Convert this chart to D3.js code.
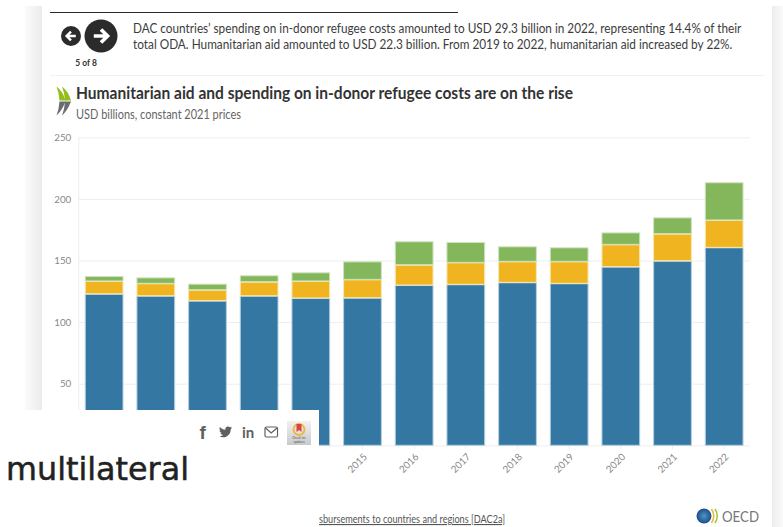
<!DOCTYPE html>
<html>
<head>
<meta charset="utf-8">
<script src="https://cdnjs.cloudflare.com/ajax/libs/d3/7.8.5/d3.min.js"></script>
<style>
  html, body { margin: 0; padding: 0; background: #fff; overflow: hidden; }
  svg { display: block; font-family: Lato, "Noto Sans", sans-serif; }
</style>
</head>
<body>
<svg id="page" width="783" height="527"></svg>
<script>
// Chart values, USD billions at constant 2021 prices
const years = [2010, 2011, 2012, 2013, 2014, 2015, 2016, 2017, 2018, 2019, 2020, 2021, 2022];
const otherOda = [123.0, 121.4, 117.4, 121.4, 119.6, 119.8, 130.1, 130.7, 132.3, 131.5, 145.0, 149.8, 160.7];
const humanitarian = [10.4, 10.1, 8.9, 11.4, 13.8, 14.9, 16.5, 17.8, 17.0, 17.8, 18.1, 22.0, 22.2];
const refugeeCosts = [4.0, 4.8, 4.9, 5.2, 7.0, 14.6, 19.0, 16.5, 12.2, 11.4, 9.7, 13.2, 30.6];
const yTicks = [0, 50, 100, 150, 200, 250];
const seriesKeys = ["otherOda", "humanitarian", "refugeeCosts"];
const seriesColors = ["#3577a3", "#efb41f", "#84b65c"];
const seriesEdges = ["#b4cfe0", "#fae7b0", "#cfe3bd"];

const insight = [
  "DAC countries\u2019 spending on in-donor refugee costs amounted to USD 29.3 billion in 2022, representing 14.4% of their",
  "total ODA. Humanitarian aid amounted to USD 22.3 billion. From 2019 to 2022, humanitarian aid increased by 22%."
];
const insightWidths = [609, 600];
const chartTitle = "Humanitarian aid and spending on in-donor refugee costs are on the rise";
const chartSubtitle = "USD billions, constant 2021 prices";

const svg = d3.select("#page");
const defs = svg.append("defs");

// Soft shadows either side of the article column
const shadowLeft = defs.append("linearGradient").attr("id", "shadowLeft");
shadowLeft.append("stop").attr("offset", "0").attr("stop-color", "#fbfbfb");
shadowLeft.append("stop").attr("offset", "1").attr("stop-color", "#ebebeb");
const shadowRight = defs.append("linearGradient").attr("id", "shadowRight");
shadowRight.append("stop").attr("offset", "0").attr("stop-color", "#ececec");
shadowRight.append("stop").attr("offset", "1").attr("stop-color", "#fafafa");
const badgeFill = defs.append("linearGradient").attr("id", "badgeFill").attr("x2", 0).attr("y2", 1);
badgeFill.append("stop").attr("offset", "0").attr("stop-color", "#f2f2f2");
badgeFill.append("stop").attr("offset", "1").attr("stop-color", "#c9c9c9");
const globeFill = defs.append("radialGradient").attr("id", "globeFill");
globeFill.append("stop").attr("offset", "0").attr("stop-color", "#4f93c9");
globeFill.append("stop").attr("offset", "1").attr("stop-color", "#1c4f86");

svg.append("rect").attr("x", 25).attr("y", 6).attr("width", 17).attr("height", 404).attr("fill", "url(#shadowLeft)");
svg.append("rect").attr("x", 772).attr("y", 6).attr("width", 11).attr("height", 521).attr("fill", "url(#shadowRight)");

// Header: rules, carousel buttons and the insight text
svg.append("line").attr("x1", 50).attr("x2", 458).attr("y1", 12.5).attr("y2", 12.5).attr("stroke", "#2a2a2a").attr("stroke-width", 1);
svg.append("line").attr("x1", 50).attr("x2", 764).attr("y1", 75.5).attr("y2", 75.5).attr("stroke", "#f1f1f1");

function arrowButton(cx, cy, r, dir, s) {
  svg.append("circle").attr("cx", cx).attr("cy", cy).attr("r", r).attr("fill", "#2b2b2b");
  svg.append("path").attr("transform", `translate(${cx},${cy}) scale(${dir * s},${s})`)
    .attr("d", "M-6,0H5M0,-5.5L5.5,0L0,5.5").attr("fill", "none")
    .attr("stroke", "#fff").attr("stroke-width", 3);
}
arrowButton(71, 36, 10, -1, 0.8);
arrowButton(101, 36, 16.5, 1, 1.2);

svg.append("text").attr("x", 86).attr("y", 66).attr("text-anchor", "middle")
  .attr("font-size", 8.5).attr("font-weight", 700).attr("fill", "#333").text("5 of 8");

// Each insight line is narrowed horizontally to fit the column
svg.selectAll("text.insight").data(insight).join("text").attr("class", "insight")
  .attr("font-size", 13).attr("fill", "#3c3c3c")
  .text(d => d)
  .attr("transform", function (d, i) {
    const k = insightWidths[i] / this.getComputedTextLength();
    return `translate(133,${33 + i * 16}) scale(${k},1)`;
  });

// OECD double chevron beside the title
const mark = svg.append("g").attr("transform", "translate(56.5,86.5)");
[0, 5.5].forEach(dx => {
  mark.append("path").attr("d", `M${dx},0 Q${dx + 6.5},5 ${dx + 9},14 L${dx + 3},14 Q${dx + 2.5},6 ${dx},0 Z`).attr("fill", "#93bd1a");
  mark.append("path").attr("d", `M${dx + 3},15 L${dx + 9},15 Q${dx + 5.5},24 ${dx},29 Q${dx + 2.5},23 ${dx + 3},15 Z`).attr("fill", "#6b6c6f");
});

svg.append("text").attr("x", 76).attr("y", 99).attr("font-size", 17).attr("font-weight", 700)
  .attr("fill", "#333").attr("textLength", 497).attr("lengthAdjust", "spacingAndGlyphs").text(chartTitle);
svg.append("text").attr("x", 76).attr("y", 119).attr("font-size", 12.5).attr("fill", "#666")
  .attr("textLength", 165).attr("lengthAdjust", "spacingAndGlyphs").text(chartSubtitle);

// Plot area
const plot = { left: 78.3, right: 750, top: 137.3, bottom: 445.3 };
const x = d3.scaleBand().domain(years).range([plot.left, plot.right]).paddingInner(0.25).paddingOuter(0.125);
const y = d3.scaleLinear().domain([0, 250]).range([plot.bottom, plot.top]);

const yAxis = d3.axisLeft(y).tickValues(yTicks).tickSize(plot.left - plot.right).tickPadding(7);
const yGroup = svg.append("g").attr("transform", `translate(${plot.left},0)`).call(yAxis);
yGroup.select(".domain").attr("stroke", "#eeeeee").attr("d", `M0.5,${plot.top}V${plot.bottom}`);
yGroup.selectAll(".tick line").attr("stroke", "#eeeeee");
yGroup.selectAll(".tick line").attr("x1", 0).attr("x2", plot.right - plot.left);
yGroup.selectAll(".tick text").attr("fill", "#888").attr("font-size", 9.8)
  .attr("font-family", 'Lato, "Noto Sans", sans-serif');
// The lower-left panel covers the zero label and the first year labels
yGroup.selectAll(".tick text").filter(d => d === 0).remove();

const xAxis = d3.axisBottom(x).tickSize(4).tickPadding(0);
const xGroup = svg.append("g").attr("transform", `translate(0,${plot.bottom})`).call(xAxis);
xGroup.select(".domain").remove();
xGroup.selectAll(".tick line").attr("stroke", "#eeeeee");
xGroup.selectAll(".tick text").filter(d => d < 2015).remove();
xGroup.selectAll(".tick text").attr("fill", "#888").attr("font-size", 9.8)
  .attr("font-family", 'Lato, "Noto Sans", sans-serif')
  .attr("text-anchor", "end").attr("x", 0).attr("y", 0).attr("dy", "0.32em")
  .attr("transform", "translate(3,10) rotate(-45)");

const rows = years.map((year, i) => ({
  year, otherOda: otherOda[i], humanitarian: humanitarian[i], refugeeCosts: refugeeCosts[i]
}));
const stacked = d3.stack().keys(seriesKeys)(rows);

svg.append("g").selectAll("g").data(stacked).join("g")
  .attr("fill", (d, i) => seriesColors[i])
  .attr("stroke", (d, i) => seriesEdges[i])
  .selectAll("rect").data(d => d).join("rect")
  .attr("x", d => x(d.data.year) + 0.5)
  .attr("width", x.bandwidth() - 1)
  .attr("y", d => y(d[1]) + 0.5)
  .attr("height", d => Math.max(0, y(d[0]) - y(d[1]) - 0.5))
  .attr("stroke-width", 1);

// Lower-left panel that sits over the plot: share icons and the "multilateral" heading
svg.append("rect").attr("x", 0).attr("y", 410).attr("width", 319).attr("height", 117).attr("fill", "#fff");

const icons = svg.append("g").attr("fill", "#5f5f5f");
icons.append("text").attr("x", 199.5).attr("y", 439).attr("font-size", 19).attr("font-weight", 700)
  .attr("font-family", '"Liberation Sans", sans-serif').text("f");
icons.append("path").attr("transform", "translate(219,426)")
  .attr("d", "M13,1.6c-.5.2-1,.4-1.5.4.6-.3,1-.8,1.2-1.4-.5.3-1.1.5-1.7.7C10.5.7,9.8.4,9,.4c-1.5,0-2.7,1.2-2.7,2.7,0,.2,0,.4.1.6C4.2,3.6,2.2,2.5.9.9.6,1.3.5,1.8.5,2.3c0,.9.5,1.8,1.2,2.3-.4,0-.9-.1-1.2-.3v0c0,1.3.9,2.4,2.2,2.7-.4.1-.8.1-1.2,0,.3,1.1,1.3,1.9,2.5,1.9C3.1,9.6,1.6,10.3,0,10.1c1.2.8,2.6,1.2,4.1,1.2,4.9,0,7.6-4.1,7.6-7.6v-.3C12.2,3,12.700,2.300,13,1.600Z");
icons.append("text").attr("x", 242).attr("y", 438).attr("font-size", 15).attr("font-weight", 700).text("in");
svg.append("rect").attr("x", 265).attr("y", 427).attr("width", 12.5).attr("height", 10).attr("rx", 1.5)
  .attr("fill", "none").attr("stroke", "#5f5f5f").attr("stroke-width", 1.2);
svg.append("path").attr("d", "M265.5,428L271.2,433L277,428").attr("fill", "none").attr("stroke", "#5f5f5f").attr("stroke-width", 1.2);

const badge = svg.append("g").attr("transform", "translate(287,421)");
badge.append("rect").attr("width", 24).attr("height", 24).attr("fill", "url(#badgeFill)");
badge.append("circle").attr("cx", 12).attr("cy", 8.5).attr("r", 5.5).attr("fill", "none").attr("stroke", "#e9b93a").attr("stroke-width", 1.8);
badge.append("path").attr("d", "M9.5,3H14.5V11L12,9L9.5,11Z").attr("fill", "#e0403f");
badge.append("text").attr("x", 12).attr("y", 18).attr("text-anchor", "middle").attr("font-size", 3.2).attr("fill", "#555").text("Check for");
badge.append("text").attr("x", 12).attr("y", 21.5).attr("text-anchor", "middle").attr("font-size", 3.2).attr("fill", "#555").text("updates");

svg.append("text").attr("x", 6).attr("y", 479.5).attr("font-size", 32)
  .attr("font-family", '"DejaVu Sans", sans-serif')
  .attr("fill", "#222").attr("stroke", "#222").attr("stroke-width", 0.5)
  .attr("textLength", 183).attr("lengthAdjust", "spacingAndGlyphs").text("multilateral");

// Footer: source link and OECD wordmark
svg.append("text").attr("x", 319).attr("y", 523).attr("font-size", 11).attr("fill", "#555")
  .attr("text-decoration", "underline").attr("textLength", 186).attr("lengthAdjust", "spacingAndGlyphs")
  .text("sbursements to countries and regions [DAC2a]");

const logo = svg.append("g").attr("transform", "translate(704,516)");
logo.append("circle").attr("r", 7.5).attr("fill", "url(#globeFill)");
[9, 12.5].forEach(dx => {
  logo.append("path").attr("d", `M${dx - 1.5},-7 Q${dx + 3},0 ${dx - 1.5},7`).attr("fill", "none")
    .attr("stroke", dx < 10 ? "#e9b93a" : "#a5c63a").attr("stroke-width", 1.5);
});
logo.append("text").attr("x", 18).attr("y", 5.5).attr("font-size", 15).attr("fill", "#777")
  .attr("textLength", 37).attr("lengthAdjust", "spacingAndGlyphs").text("OECD");
</script>
</body>
</html>
